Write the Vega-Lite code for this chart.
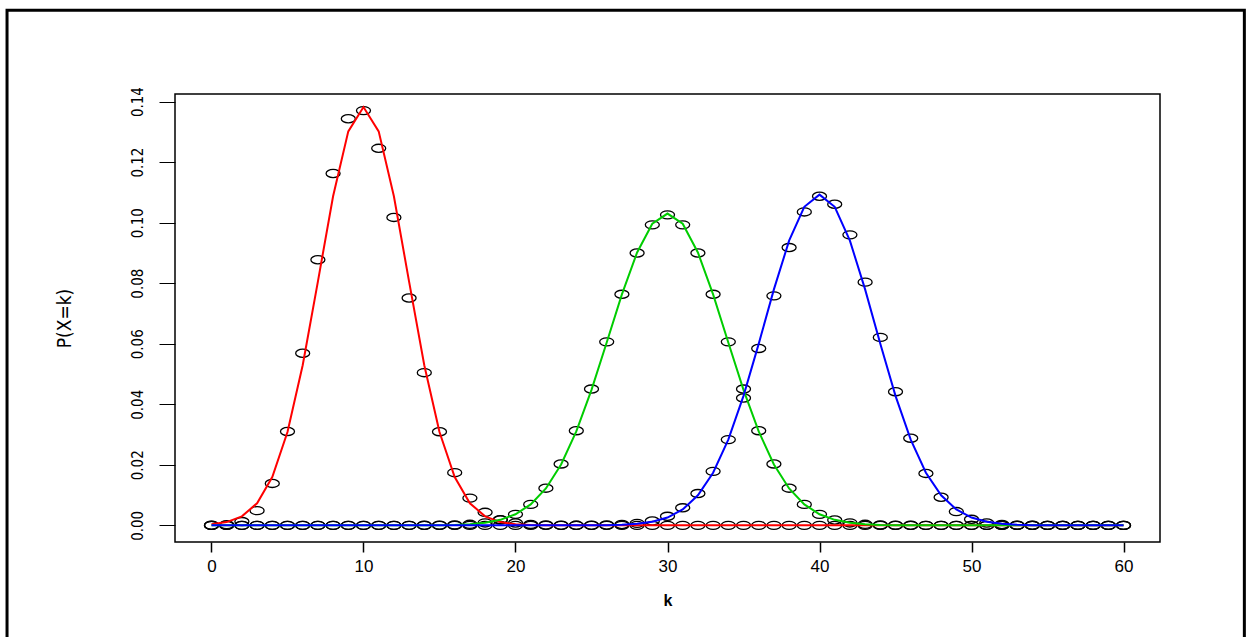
{
  "$schema": "https://vega.github.io/schema/vega-lite/v6.json",
  "autosize": {"type": "none"},
  "padding": {"left": 175, "top": 94, "right": 86, "bottom": 95},
  "width": 985,
  "height": 448,
  "background": "white",
  "config": {
    "view": {"stroke": "black", "strokeWidth": 1.5},
    "axis": {"grid": false, "domain": false, "labelColor": "black", "titleColor": "black", "tickColor": "black", "labelFlush": false, "labelOverlap": false}
  },
  "datasets": {
    "dists": [
      {"k":0,"dist":"p=0.1667","pmf":0.0000177,"approx":0.000343},
      {"k":1,"dist":"p=0.1667","pmf":0.000213,"approx":0.001071},
      {"k":2,"dist":"p=0.1667","pmf":0.001256,"approx":0.002970},
      {"k":3,"dist":"p=0.1667","pmf":0.004858,"approx":0.007306},
      {"k":4,"dist":"p=0.1667","pmf":0.013847,"approx":0.015938},
      {"k":5,"dist":"p=0.1667","pmf":0.031016,"approx":0.030836},
      {"k":6,"dist":"p=0.1667","pmf":0.056863,"approx":0.052915},
      {"k":7,"dist":"p=0.1667","pmf":0.087732,"approx":0.080533},
      {"k":8,"dist":"p=0.1667","pmf":0.116244,"approx":0.108708},
      {"k":9,"dist":"p=0.1667","pmf":0.134327,"approx":0.130150},
      {"k":10,"dist":"p=0.1667","pmf":0.137013,"approx":0.138198},
      {"k":11,"dist":"p=0.1667","pmf":0.124557,"approx":0.130150},
      {"k":12,"dist":"p=0.1667","pmf":0.101722,"approx":0.108708},
      {"k":13,"dist":"p=0.1667","pmf":0.075118,"approx":0.080533},
      {"k":14,"dist":"p=0.1667","pmf":0.050436,"approx":0.052915},
      {"k":15,"dist":"p=0.1667","pmf":0.030934,"approx":0.030836},
      {"k":16,"dist":"p=0.1667","pmf":0.017400,"approx":0.015938},
      {"k":17,"dist":"p=0.1667","pmf":0.009007,"approx":0.007306},
      {"k":18,"dist":"p=0.1667","pmf":0.004303,"approx":0.002970},
      {"k":19,"dist":"p=0.1667","pmf":0.001903,"approx":0.001071},
      {"k":20,"dist":"p=0.1667","pmf":0.000780,"approx":0.000343},
      {"k":21,"dist":"p=0.1667","pmf":0.000297,"approx":0.0000972},
      {"k":22,"dist":"p=0.1667","pmf":0.000105,"approx":0.0000244},
      {"k":23,"dist":"p=0.1667","pmf":0.0000348,"approx":0.0000055},
      {"k":24,"dist":"p=0.1667","pmf":0.0000107,"approx":0.0000011},
      {"k":25,"dist":"p=0.1667","pmf":0.0000031,"approx":0},
      {"k":26,"dist":"p=0.1667","pmf":0.0000008,"approx":0},
      {"k":27,"dist":"p=0.1667","pmf":0,"approx":0},
      {"k":28,"dist":"p=0.1667","pmf":0,"approx":0},
      {"k":29,"dist":"p=0.1667","pmf":0,"approx":0},
      {"k":30,"dist":"p=0.1667","pmf":0,"approx":0},
      {"k":31,"dist":"p=0.1667","pmf":0,"approx":0},
      {"k":32,"dist":"p=0.1667","pmf":0,"approx":0},
      {"k":33,"dist":"p=0.1667","pmf":0,"approx":0},
      {"k":34,"dist":"p=0.1667","pmf":0,"approx":0},
      {"k":35,"dist":"p=0.1667","pmf":0,"approx":0},
      {"k":36,"dist":"p=0.1667","pmf":0,"approx":0},
      {"k":37,"dist":"p=0.1667","pmf":0,"approx":0},
      {"k":38,"dist":"p=0.1667","pmf":0,"approx":0},
      {"k":39,"dist":"p=0.1667","pmf":0,"approx":0},
      {"k":40,"dist":"p=0.1667","pmf":0,"approx":0},
      {"k":41,"dist":"p=0.1667","pmf":0,"approx":0},
      {"k":42,"dist":"p=0.1667","pmf":0,"approx":0},
      {"k":43,"dist":"p=0.1667","pmf":0,"approx":0},
      {"k":44,"dist":"p=0.1667","pmf":0,"approx":0},
      {"k":45,"dist":"p=0.1667","pmf":0,"approx":0},
      {"k":46,"dist":"p=0.1667","pmf":0,"approx":0},
      {"k":47,"dist":"p=0.1667","pmf":0,"approx":0},
      {"k":48,"dist":"p=0.1667","pmf":0,"approx":0},
      {"k":49,"dist":"p=0.1667","pmf":0,"approx":0},
      {"k":50,"dist":"p=0.1667","pmf":0,"approx":0},
      {"k":51,"dist":"p=0.1667","pmf":0,"approx":0},
      {"k":52,"dist":"p=0.1667","pmf":0,"approx":0},
      {"k":53,"dist":"p=0.1667","pmf":0,"approx":0},
      {"k":54,"dist":"p=0.1667","pmf":0,"approx":0},
      {"k":55,"dist":"p=0.1667","pmf":0,"approx":0},
      {"k":56,"dist":"p=0.1667","pmf":0,"approx":0},
      {"k":57,"dist":"p=0.1667","pmf":0,"approx":0},
      {"k":58,"dist":"p=0.1667","pmf":0,"approx":0},
      {"k":59,"dist":"p=0.1667","pmf":0,"approx":0},
      {"k":60,"dist":"p=0.1667","pmf":0,"approx":0},

      {"k":0,"dist":"p=0.5","pmf":0,"approx":0},
      {"k":1,"dist":"p=0.5","pmf":0,"approx":0},
      {"k":2,"dist":"p=0.5","pmf":0,"approx":0},
      {"k":3,"dist":"p=0.5","pmf":0,"approx":0},
      {"k":4,"dist":"p=0.5","pmf":0,"approx":0},
      {"k":5,"dist":"p=0.5","pmf":0,"approx":0},
      {"k":6,"dist":"p=0.5","pmf":0,"approx":0},
      {"k":7,"dist":"p=0.5","pmf":0,"approx":0},
      {"k":8,"dist":"p=0.5","pmf":0,"approx":0},
      {"k":9,"dist":"p=0.5","pmf":0,"approx":0},
      {"k":10,"dist":"p=0.5","pmf":0,"approx":0},
      {"k":11,"dist":"p=0.5","pmf":0,"approx":0.0000006},
      {"k":12,"dist":"p=0.5","pmf":0.0000012,"approx":0.0000021},
      {"k":13,"dist":"p=0.5","pmf":0.0000045,"approx":0.0000067},
      {"k":14,"dist":"p=0.5","pmf":0.0000150,"approx":0.0000203},
      {"k":15,"dist":"p=0.5","pmf":0.0000461,"approx":0.0000570},
      {"k":16,"dist":"p=0.5","pmf":0.000130,"approx":0.000150},
      {"k":17,"dist":"p=0.5","pmf":0.000336,"approx":0.000368},
      {"k":18,"dist":"p=0.5","pmf":0.000802,"approx":0.000848},
      {"k":19,"dist":"p=0.5","pmf":0.001774,"approx":0.001824},
      {"k":20,"dist":"p=0.5","pmf":0.003636,"approx":0.003675},
      {"k":21,"dist":"p=0.5","pmf":0.006925,"approx":0.006923},
      {"k":22,"dist":"p=0.5","pmf":0.012277,"approx":0.012200},
      {"k":23,"dist":"p=0.5","pmf":0.020283,"approx":0.020114},
      {"k":24,"dist":"p=0.5","pmf":0.031270,"approx":0.031025},
      {"k":25,"dist":"p=0.5","pmf":0.045029,"approx":0.044766},
      {"k":26,"dist":"p=0.5","pmf":0.060616,"approx":0.060428},
      {"k":27,"dist":"p=0.5","pmf":0.076331,"approx":0.076309},
      {"k":28,"dist":"p=0.5","pmf":0.089962,"approx":0.090148},
      {"k":29,"dist":"p=0.5","pmf":0.099269,"approx":0.099629},
      {"k":30,"dist":"p=0.5","pmf":0.102578,"approx":0.103006},
      {"k":31,"dist":"p=0.5","pmf":0.099269,"approx":0.099629},
      {"k":32,"dist":"p=0.5","pmf":0.089962,"approx":0.090148},
      {"k":33,"dist":"p=0.5","pmf":0.076331,"approx":0.076309},
      {"k":34,"dist":"p=0.5","pmf":0.060616,"approx":0.060428},
      {"k":35,"dist":"p=0.5","pmf":0.045029,"approx":0.044766},
      {"k":36,"dist":"p=0.5","pmf":0.031270,"approx":0.031025},
      {"k":37,"dist":"p=0.5","pmf":0.020283,"approx":0.020114},
      {"k":38,"dist":"p=0.5","pmf":0.012277,"approx":0.012200},
      {"k":39,"dist":"p=0.5","pmf":0.006925,"approx":0.006923},
      {"k":40,"dist":"p=0.5","pmf":0.003636,"approx":0.003675},
      {"k":41,"dist":"p=0.5","pmf":0.001774,"approx":0.001824},
      {"k":42,"dist":"p=0.5","pmf":0.000802,"approx":0.000848},
      {"k":43,"dist":"p=0.5","pmf":0.000336,"approx":0.000368},
      {"k":44,"dist":"p=0.5","pmf":0.000130,"approx":0.000150},
      {"k":45,"dist":"p=0.5","pmf":0.0000461,"approx":0.0000570},
      {"k":46,"dist":"p=0.5","pmf":0.0000150,"approx":0.0000203},
      {"k":47,"dist":"p=0.5","pmf":0.0000045,"approx":0.0000067},
      {"k":48,"dist":"p=0.5","pmf":0.0000012,"approx":0.0000021},
      {"k":49,"dist":"p=0.5","pmf":0,"approx":0.0000006},
      {"k":50,"dist":"p=0.5","pmf":0,"approx":0},
      {"k":51,"dist":"p=0.5","pmf":0,"approx":0},
      {"k":52,"dist":"p=0.5","pmf":0,"approx":0},
      {"k":53,"dist":"p=0.5","pmf":0,"approx":0},
      {"k":54,"dist":"p=0.5","pmf":0,"approx":0},
      {"k":55,"dist":"p=0.5","pmf":0,"approx":0},
      {"k":56,"dist":"p=0.5","pmf":0,"approx":0},
      {"k":57,"dist":"p=0.5","pmf":0,"approx":0},
      {"k":58,"dist":"p=0.5","pmf":0,"approx":0},
      {"k":59,"dist":"p=0.5","pmf":0,"approx":0},
      {"k":60,"dist":"p=0.5","pmf":0,"approx":0},

      {"k":0,"dist":"p=0.6667","pmf":0,"approx":0},
      {"k":1,"dist":"p=0.6667","pmf":0,"approx":0},
      {"k":2,"dist":"p=0.6667","pmf":0,"approx":0},
      {"k":3,"dist":"p=0.6667","pmf":0,"approx":0},
      {"k":4,"dist":"p=0.6667","pmf":0,"approx":0},
      {"k":5,"dist":"p=0.6667","pmf":0,"approx":0},
      {"k":6,"dist":"p=0.6667","pmf":0,"approx":0},
      {"k":7,"dist":"p=0.6667","pmf":0,"approx":0},
      {"k":8,"dist":"p=0.6667","pmf":0,"approx":0},
      {"k":9,"dist":"p=0.6667","pmf":0,"approx":0},
      {"k":10,"dist":"p=0.6667","pmf":0,"approx":0},
      {"k":11,"dist":"p=0.6667","pmf":0,"approx":0},
      {"k":12,"dist":"p=0.6667","pmf":0,"approx":0},
      {"k":13,"dist":"p=0.6667","pmf":0,"approx":0},
      {"k":14,"dist":"p=0.6667","pmf":0,"approx":0},
      {"k":15,"dist":"p=0.6667","pmf":0,"approx":0},
      {"k":16,"dist":"p=0.6667","pmf":0,"approx":0},
      {"k":17,"dist":"p=0.6667","pmf":0,"approx":0},
      {"k":18,"dist":"p=0.6667","pmf":0,"approx":0},
      {"k":19,"dist":"p=0.6667","pmf":0,"approx":0},
      {"k":20,"dist":"p=0.6667","pmf":0,"approx":0},
      {"k":21,"dist":"p=0.6667","pmf":0,"approx":0},
      {"k":22,"dist":"p=0.6667","pmf":0.0000014,"approx":0.0000006},
      {"k":23,"dist":"p=0.6667","pmf":0.0000046,"approx":0.0000021},
      {"k":24,"dist":"p=0.6667","pmf":0.0000143,"approx":0.0000074},
      {"k":25,"dist":"p=0.6667","pmf":0.0000411,"approx":0.0000236},
      {"k":26,"dist":"p=0.6667","pmf":0.000111,"approx":0.0000702},
      {"k":27,"dist":"p=0.6667","pmf":0.000279,"approx":0.000193},
      {"k":28,"dist":"p=0.6667","pmf":0.000657,"approx":0.000494},
      {"k":29,"dist":"p=0.6667","pmf":0.001449,"approx":0.001169},
      {"k":30,"dist":"p=0.6667","pmf":0.002995,"approx":0.002569},
      {"k":31,"dist":"p=0.6667","pmf":0.005797,"approx":0.005239},
      {"k":32,"dist":"p=0.6667","pmf":0.010508,"approx":0.009911},
      {"k":33,"dist":"p=0.6667","pmf":0.017832,"approx":0.017395},
      {"k":34,"dist":"p=0.6667","pmf":0.028322,"approx":0.028323},
      {"k":35,"dist":"p=0.6667","pmf":0.042078,"approx":0.042785},
      {"k":36,"dist":"p=0.6667","pmf":0.058442,"approx":0.059961},
      {"k":37,"dist":"p=0.6667","pmf":0.075816,"approx":0.077961},
      {"k":38,"dist":"p=0.6667","pmf":0.091777,"approx":0.094037},
      {"k":39,"dist":"p=0.6667","pmf":0.103543,"approx":0.105234},
      {"k":40,"dist":"p=0.6667","pmf":0.108720,"approx":0.109255},
      {"k":41,"dist":"p=0.6667","pmf":0.106070,"approx":0.105234},
      {"k":42,"dist":"p=0.6667","pmf":0.095970,"approx":0.094037},
      {"k":43,"dist":"p=0.6667","pmf":0.080350,"approx":0.077961},
      {"k":44,"dist":"p=0.6667","pmf":0.062090,"approx":0.059961},
      {"k":45,"dist":"p=0.6667","pmf":0.044150,"approx":0.042785},
      {"k":46,"dist":"p=0.6667","pmf":0.028790,"approx":0.028323},
      {"k":47,"dist":"p=0.6667","pmf":0.017150,"approx":0.017395},
      {"k":48,"dist":"p=0.6667","pmf":0.009291,"approx":0.009911},
      {"k":49,"dist":"p=0.6667","pmf":0.004551,"approx":0.005239},
      {"k":50,"dist":"p=0.6667","pmf":0.002002,"approx":0.002569},
      {"k":51,"dist":"p=0.6667","pmf":0.000785,"approx":0.001169},
      {"k":52,"dist":"p=0.6667","pmf":0.000272,"approx":0.000494},
      {"k":53,"dist":"p=0.6667","pmf":0.0000820,"approx":0.000193},
      {"k":54,"dist":"p=0.6667","pmf":0.0000213,"approx":0.0000702},
      {"k":55,"dist":"p=0.6667","pmf":0.0000046,"approx":0.0000236},
      {"k":56,"dist":"p=0.6667","pmf":0.0000008,"approx":0.0000074},
      {"k":57,"dist":"p=0.6667","pmf":0,"approx":0.0000021},
      {"k":58,"dist":"p=0.6667","pmf":0,"approx":0.0000006},
      {"k":59,"dist":"p=0.6667","pmf":0,"approx":0},
      {"k":60,"dist":"p=0.6667","pmf":0,"approx":0}
    ]
  },
  "layer": [
    {
      "data": {"values": [{"frame": "outer"}]},
      "mark": {"type": "rect", "fill": null, "stroke": "black", "strokeWidth": 3, "clip": false},
      "encoding": {
        "x": {"datum": -13.45, "type": "quantitative"},
        "x2": {"datum": 67.95},
        "y": {"datum": 0.1702, "type": "quantitative"},
        "y2": {"datum": -0.045}
      }
    },
    {
      "data": {"name": "dists"},
      "mark": {"type": "point", "shape": "M-1,0A1,0.58 0 1,1 1,0A1,0.58 0 1,1 -1,0Z", "filled": false, "stroke": "black", "strokeWidth": 1.3, "size": 196, "opacity": 1},
      "encoding": {
        "x": {
          "field": "k", "type": "quantitative",
          "scale": {"domain": [-2.4, 62.4], "nice": false, "zero": false},
          "axis": {"title": "k", "values": [0, 10, 20, 30, 40, 50, 60], "tickSize": 10, "tickWidth": 1.5, "labelFont": "Liberation Sans, Arial, sans-serif", "labelFontSize": 17, "labelPadding": 6, "titleFont": "Liberation Sans, Arial, sans-serif", "titleFontSize": 16, "titleFontWeight": "bold", "titlePadding": 18}
        },
        "y": {
          "field": "pmf", "type": "quantitative",
          "scale": {"domain": [-0.0055, 0.1425], "nice": false, "zero": false},
          "axis": {"title": "P(X=k)", "values": [0, 0.02, 0.04, 0.06, 0.08, 0.1, 0.12, 0.14], "format": ".2f", "tickSize": 16, "tickWidth": 1, "labelAngle": 270, "labelFont": "'Liberation Sans Narrow', 'DejaVu Sans Condensed', 'Arial Narrow', 'Liberation Sans', sans-serif", "labelFontSize": 15, "labelPadding": 14, "titleFont": "'Liberation Sans Narrow', 'DejaVu Sans Condensed', 'Arial Narrow', 'Liberation Sans', sans-serif", "titleFontSize": 19, "titleFontWeight": "normal", "titlePadding": 56}
        }
      }
    },
    {
      "data": {"name": "dists"},
      "mark": {"type": "line", "strokeWidth": 2},
      "encoding": {
        "x": {"field": "k", "type": "quantitative"},
        "y": {"field": "approx", "type": "quantitative"},
        "color": {"field": "dist", "type": "nominal", "scale": {"domain": ["p=0.1667", "p=0.5", "p=0.6667"], "range": ["#FF0000", "#00CD00", "#0000FF"]}, "legend": null}
      }
    }
  ]
}
